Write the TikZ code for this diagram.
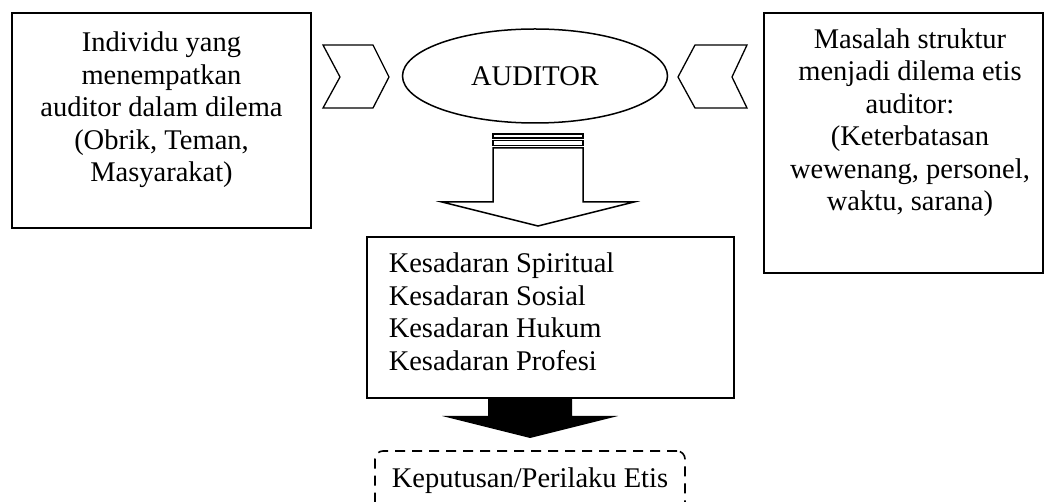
\documentclass[tikz,border=0pt]{standalone}
\usepackage{fontspec}
\setmainfont{Liberation Serif}
\usetikzlibrary{shapes.geometric}
\begin{document}
\begin{tikzpicture}[x=1pt,y=-1pt,line width=1.5pt,
  txt/.style={font=\fontsize{28.5}{32.5}\selectfont, inner sep=0pt},
  box/.style={draw, rectangle, inner sep=0pt},
  chev/.style={draw, fill=white, line width=1.3pt, line join=miter}]
\useasboundingbox (0,0) rectangle (1045,502);
% left box
\node[box, minimum width=299pt, minimum height=215pt] (leftbox) at (161.5,120.5) {};
\node[txt, anchor=base] (lefttext) at (161.5,52) {\begin{tabular}[t]{@{}c@{}}Individu yang\\ menempatkan\\ auditor dalam dilema\\ (Obrik, Teman,\\ Masyarakat)\end{tabular}};
% right box
\node[box, minimum width=279pt, minimum height=260pt] (rightbox) at (903.5,143) {};
\node[txt, anchor=base] (righttext) at (910,48.5) {\begin{tabular}[t]{@{}c@{}}Masalah struktur\\ menjadi dilema etis\\ auditor:\\ (Keterbatasan\\ wewenang, personel,\\ waktu, sarana)\end{tabular}};
% auditor ellipse
\node[ellipse, draw, txt, minimum width=265pt, minimum height=94pt] (auditor) at (535,76) {AUDITOR};
% chevrons
\draw[chev] (323,45) -- (373,45) -- (389,77) -- (373,108) -- (323,108) -- (340,77) -- cycle;
\draw[chev] (695,45) -- (747,45) -- (732,77) -- (747,108) -- (695,108) -- (678,77) -- cycle;
% striped white arrow
\draw[line width=1.2pt] (493,134) rectangle (583,138);
\draw[line width=1.2pt] (493,140.5) rectangle (583,145.5);
\draw[line width=1.5pt, fill=white, line join=miter] (493,148) -- (583,148) -- (583,202) -- (634,202) -- (538,226) -- (442,202) -- (493,202) -- cycle;
% middle box
\node[box, minimum width=367pt, minimum height=161pt] (midbox) at (550.5,317.5) {};
\node[txt, anchor=base west] (midtext) at (388,273) {\begin{tabular}[t]{@{}l@{}}Kesadaran Spiritual\\ Kesadaran Sosial\\ Kesadaran Hukum\\ Kesadaran Profesi\end{tabular}};
% black arrow
\fill[black] (488,398) -- (572,398) -- (572,416) -- (618,416) -- (530,438) -- (442,416) -- (488,416) -- cycle;
% dashed box
\node[box, rounded corners=8pt, dash pattern=on 10pt off 7pt, line width=1.6pt, minimum width=310pt, minimum height=69pt] (decision) at (530,485.5) {};
\node[txt, anchor=base] (dectext) at (530,488) {Keputusan/Perilaku Etis};
\end{tikzpicture}
\end{document}
